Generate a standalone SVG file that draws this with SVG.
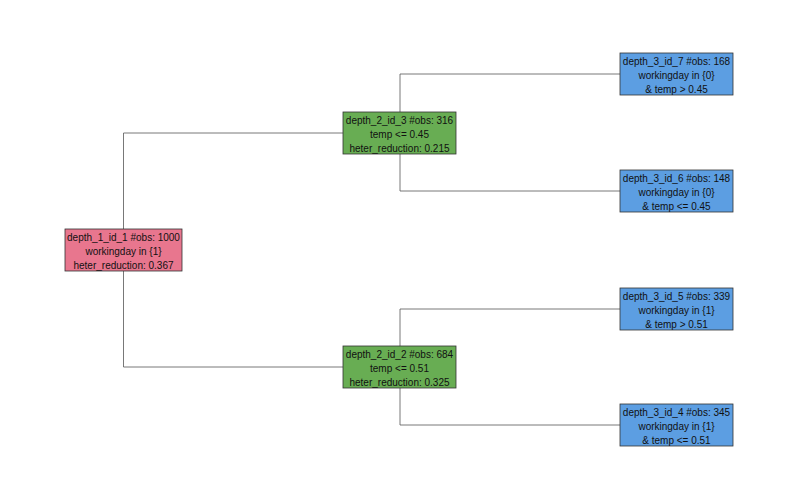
<svg xmlns="http://www.w3.org/2000/svg" width="800" height="500" viewBox="0 0 800 500">
<style>
rect{stroke:#333;stroke-width:0.8}
.r{fill:#E8768E}.g{fill:#68AD53}.b{fill:#5C9EE2}
text{font-family:"Liberation Sans",Arial,sans-serif;font-size:10px;fill:#111;text-anchor:middle}
.c path{fill:none;stroke:#555;stroke-width:0.8}
</style>
<rect width="800" height="500" fill="#fff" style="stroke:none"/>
<g class="c">
<path d="M123.5,229V133H343"/>
<path d="M123.5,271V367H343"/>
<path d="M400,112V74H620"/>
<path d="M400,154V191H620"/>
<path d="M400,346V309H620"/>
<path d="M400,388V425H620"/>
</g>
<g id="n1"><rect class="r" x="65" y="229" width="117" height="42"/><text x="123.5" y="241">depth_1_id_1 #obs: 1000</text><text x="123.5" y="255">workingday in {1}</text><text x="123.5" y="269">heter_reduction: 0.367</text></g>
<g id="n3"><rect class="g" x="343" y="112" width="113" height="42"/><text x="399.5" y="124">depth_2_id_3 #obs: 316</text><text x="399.5" y="138">temp &lt;= 0.45</text><text x="399.5" y="152">heter_reduction: 0.215</text></g>
<g id="n2"><rect class="g" x="343" y="346" width="113" height="42"/><text x="399.5" y="358">depth_2_id_2 #obs: 684</text><text x="399.5" y="372">temp &lt;= 0.51</text><text x="399.5" y="386">heter_reduction: 0.325</text></g>
<g id="n7"><rect class="b" x="620" y="53" width="113" height="42"/><text x="676.5" y="65">depth_3_id_7 #obs: 168</text><text x="676.5" y="79">workingday in {0}</text><text x="676.5" y="93">&amp; temp &gt; 0.45</text></g>
<g id="n6"><rect class="b" x="620" y="170" width="113" height="42"/><text x="676.5" y="182">depth_3_id_6 #obs: 148</text><text x="676.5" y="196">workingday in {0}</text><text x="676.5" y="210">&amp; temp &lt;= 0.45</text></g>
<g id="n5"><rect class="b" x="620" y="288" width="113" height="42"/><text x="676.5" y="300">depth_3_id_5 #obs: 339</text><text x="676.5" y="314">workingday in {1}</text><text x="676.5" y="328">&amp; temp &gt; 0.51</text></g>
<g id="n4"><rect class="b" x="620" y="404" width="113" height="42"/><text x="676.5" y="416">depth_3_id_4 #obs: 345</text><text x="676.5" y="430">workingday in {1}</text><text x="676.5" y="444">&amp; temp &lt;= 0.51</text></g>
</svg>
